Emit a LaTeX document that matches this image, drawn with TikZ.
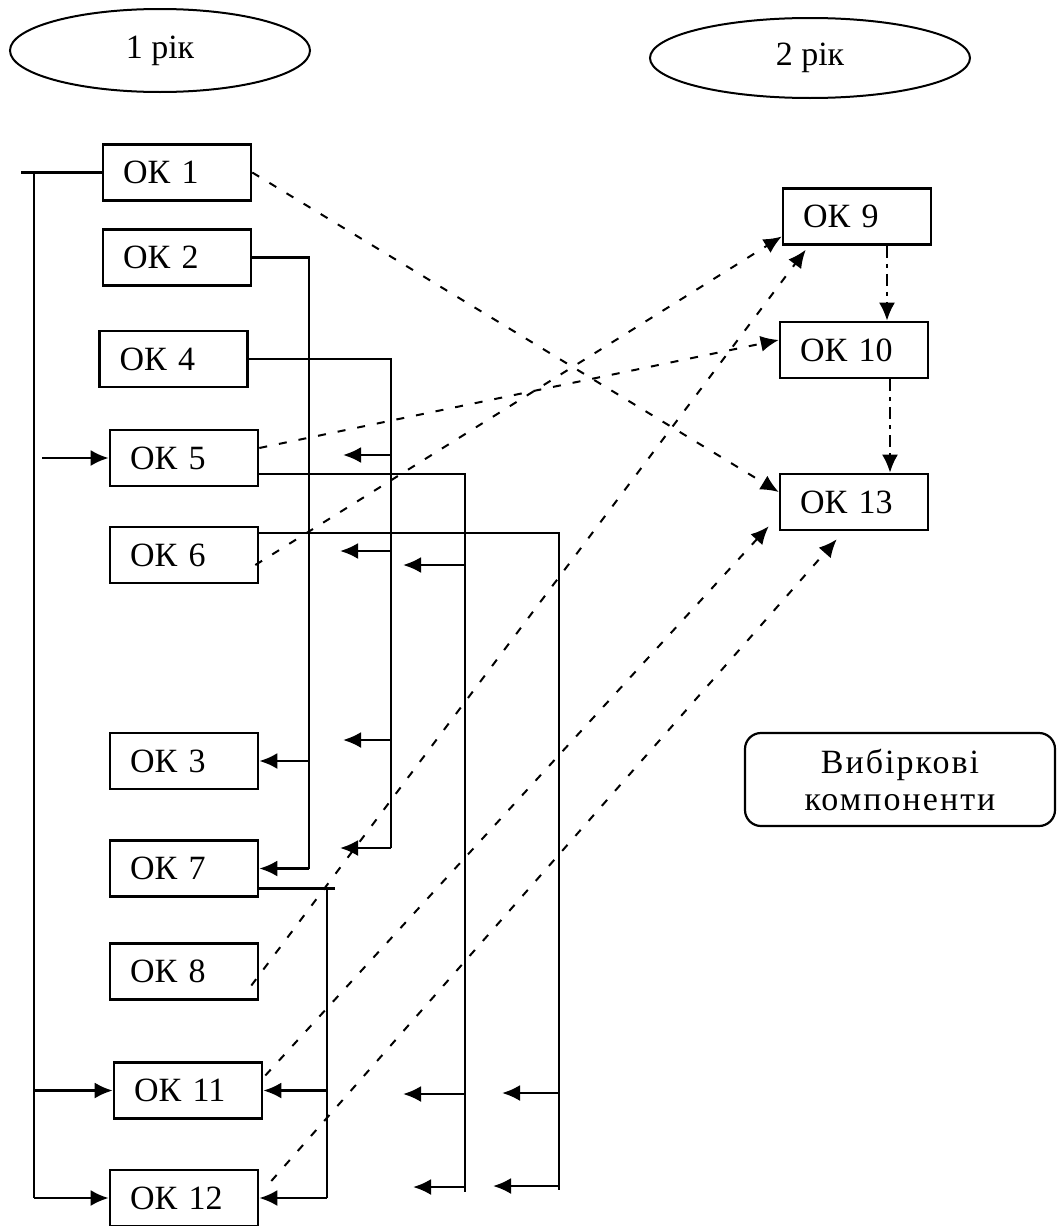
\documentclass[tikz,border=0pt]{standalone}
\usepackage{fontspec}
\setmainfont{Liberation Serif}
\usetikzlibrary{arrows.meta,calc,shapes.geometric}
\begin{document}
\begin{tikzpicture}[x=0.5pt,y=-0.5pt,
  okbox/.style={draw, line width=1.3pt, minimum width=74pt, minimum height=28pt, text width=54pt, inner xsep=10pt, inner ysep=0pt, align=left, font=\fontsize{17}{20}\selectfont},
  yearell/.style={draw, ellipse, line width=1pt, font=\fontsize{17}{20}\selectfont, inner sep=0pt},
  conn/.style={line width=1.3pt},
  arr/.style={line width=1.3pt, -{Latex[length=9pt,width=8pt]}},
  darr/.style={line width=1pt, dash pattern=on 4pt off 6pt, -{Latex[length=9pt,width=8pt]}},
  ddarr/.style={line width=1.2pt, dash pattern=on 6pt off 3pt on 2pt off 3pt, -{Latex[length=9pt,width=8pt]}}
]
\useasboundingbox (0,0) rectangle (1056,1226);

% year ellipses
\node[yearell, minimum width=150pt, minimum height=41.5pt] (y1) at (160,50.5) {1 рік};
\node[yearell, minimum width=160pt, minimum height=40pt] (y2) at (810,58) {2 рік};

% first-year boxes
\node[okbox] (ok1) at (177,172.5) {ОК 1};
\node[okbox] (ok2) at (177,257.5) {ОК 2};
\node[okbox] (ok4) at (173.5,359) {ОК 4};
\node[okbox] (ok5) at (184,458) {ОК 5};
\node[okbox] (ok6) at (184,555) {ОК 6};
\node[okbox] (ok3) at (184,761) {ОК 3};
\node[okbox] (ok7) at (184,868.5) {ОК 7};
\node[okbox] (ok8) at (184,971.5) {ОК 8};
\node[okbox] (ok11) at (188,1090.5) {ОК 11};
\node[okbox] (ok12) at (184,1198) {ОК 12};

% second-year boxes
\node[okbox] (ok9) at (857,216.5) {ОК 9};
\node[okbox] (ok10) at (854,350) {ОК 10};
\node[okbox] (ok13) at (854,502) {ОК 13};

\node[draw, rounded corners=8pt, line width=1.1pt, minimum width=155pt, minimum height=46.5pt, align=center, font=\fontsize{17}{18.5}\selectfont\addfontfeature{LetterSpace=6}] (vyb) at (900,779.5) {Вибіркові\\компоненти};

% left bus (from OK1)
\coordinate (Lstub) at (21,172.5);
\coordinate (L) at (34,0);
\coordinate (L5) at (42,458);
\draw[conn] (Lstub) -- (ok1.west);
\draw[conn] (ok1.west -| L) -- (ok12.west -| L);
\draw[arr] (L5) -- (ok5.west);
\draw[arr] (ok11.west -| L) -- (ok11.west);
\draw[arr] (ok12.west -| L) -- (ok12.west);

% OK2 bus
\coordinate (B2) at (309,0);
\draw[conn] (ok2.east) -- (ok2.east -| B2) -- (ok7.east -| B2);
\draw[arr] (ok3.east -| B2) -- (ok3.east);
\draw[arr] (ok7.east -| B2) -- (ok7.east);

% OK4 bus
\coordinate (B4) at (391,0);
\coordinate (a40) at (340,848);
\coordinate (a41) at (343,455);
\coordinate (a42) at (340,551);
\coordinate (a43) at (343,740);
\draw[conn] (ok4.east) -- (ok4.east -| B4) -- (a40 -| B4);
\draw[arr] (a40 -| B4) -- (a40);
\draw[arr] (a41 -| B4) -- (a41);
\draw[arr] (a42 -| B4) -- (a42);
\draw[arr] (a43 -| B4) -- (a43);

% OK5 bus
\coordinate (B5) at (465,0);
\coordinate (o5) at ($(ok5.east)+(0,16)$);
\coordinate (b5end) at (465,1192);
\coordinate (a51) at (403,565);
\coordinate (a52) at (403,1094);
\coordinate (a53) at (413,1187);
\draw[conn] (o5) -- (o5 -| B5) -- (b5end);
\draw[arr] (a51 -| B5) -- (a51);
\draw[arr] (a52 -| B5) -- (a52);
\draw[arr] (a53 -| B5) -- (a53);

% OK6 bus
\coordinate (B6) at (559,0);
\coordinate (o6) at ($(ok6.east)+(0,-22)$);
\coordinate (b6end) at (559,1190);
\coordinate (a61) at (502,1093);
\coordinate (a62) at (493,1186);
\draw[conn] (o6) -- (o6 -| B6) -- (b6end);
\draw[arr] (a61 -| B6) -- (a61);
\draw[arr] (a62 -| B6) -- (a62);

% OK7 bus
\coordinate (B7) at (327,0);
\coordinate (o7) at ($(ok7.east)+(0,20)$);
\coordinate (o7r) at (335,888.5);
\draw[conn] (o7) -- (o7r);
\draw[conn] (o7 -| B7) -- (ok12.east -| B7);
\draw[arr] (ok11.east -| B7) -- (ok11.east);
\draw[arr] (ok12.east -| B7) -- (ok12.east);

% dashed links to second year
\draw[darr] (ok1.east) -- ($(ok13.west)+(0,-10)$);
\draw[darr] ($(ok5.east)+(0,-10)$) -- ($(ok10.west)+(0,-10)$);
\draw[darr] ($(ok6.east)+(-4,10)$) -- ($(ok9.west)+(0,20)$);
\draw[darr] ($(ok8.east)+(-8,14)$) -- ($(ok9.south west)+(24,4)$);
\draw[darr] ($(ok11.east)+(2,-15)$) -- ($(ok13.south west)+(-10,-5)$);
\draw[darr] ($(ok12.east)+(12,-17)$) -- ($(ok13.south west)+(58,8)$);

% second-year chain
\draw[ddarr] ($(ok9.south)+(30,0)$) -- ($(ok10.north)+(33,0)$);
\draw[ddarr] ($(ok10.south)+(36,0)$) -- ($(ok13.north)+(36,0)$);
\end{tikzpicture}
\end{document}
